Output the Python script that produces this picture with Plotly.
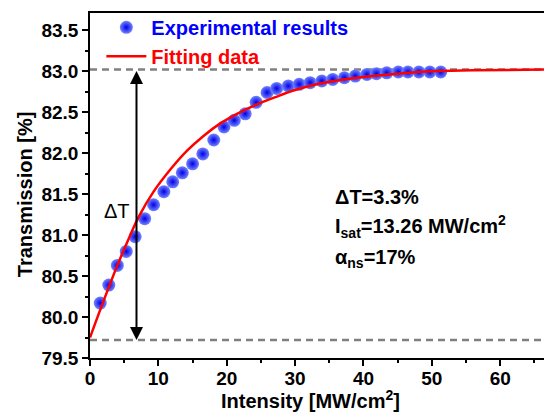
import plotly.graph_objects as go

exp_x = [1.5, 2.75, 4.0, 5.3, 6.6, 8.0, 9.3, 10.8, 12.1, 13.5, 15.0, 16.5, 18.1, 19.6,
         21.1, 22.7, 24.3, 25.9, 27.3, 29.0, 30.6, 32.2, 33.9, 35.5, 37.2, 38.8, 40.5,
         41.9, 43.4, 45.1, 46.5, 48.1, 49.7, 51.3]
exp_y = [80.17, 80.39, 80.63, 80.80, 80.98, 81.20, 81.37, 81.53, 81.65, 81.76, 81.87,
         81.99, 82.16, 82.32, 82.40, 82.48, 82.62, 82.74, 82.79, 82.82, 82.84, 82.86,
         82.88, 82.90, 82.92, 82.94, 82.96, 82.97, 82.98, 82.99, 82.99, 82.99, 82.99, 82.99]

# Fitting curve
fit_x = [0, 2, 4, 6, 7.1, 9.3, 11.75, 14.2, 16.6, 19, 21.5, 24, 27, 30, 35, 40, 45, 50, 56, 66.4]
fit_y = [79.75, 80.20, 80.63, 81.02, 81.22, 81.53, 81.80, 82.03, 82.21, 82.36, 82.48,
         82.58, 82.68, 82.77, 82.87, 82.93, 82.97, 83.00, 83.01, 83.02]

# Reference levels and arrow position
t_max = 83.02
t_min = 79.72
arrow_x = 6.8

x_range = [0, 66.4]
y_range = [79.5, 83.71]

fig = go.Figure()

for lvl in (t_max, t_min):
    fig.add_trace(go.Scatter(
        x=x_range, y=[lvl, lvl], mode="lines",
        line=dict(color="#808080", width=2.5, dash="7px,5px"),
        showlegend=False, hoverinfo="skip"))

fig.add_trace(go.Scatter(
    x=exp_x, y=exp_y, mode="markers",
    name="<span style='color:#0000ff'>Experimental results</span>",
    marker=dict(size=13, color="#7484ff",
                gradient=dict(type="radial", color="#0000e6"),
                line=dict(width=0))))

fig.add_trace(go.Scatter(
    x=fit_x, y=fit_y, mode="lines", line_shape="spline",
    name="<span style='color:#ff0000'>Fitting data</span>",
    line=dict(color="#ff0000", width=2.5)))

fig.add_annotation(
    x=arrow_x, y=t_min, ax=arrow_x, ay=t_max, xref="x", yref="y", axref="x", ayref="y",
    showarrow=True, arrowhead=2, startarrowhead=2, arrowside="end+start",
    arrowsize=1.3, startarrowsize=1.3, arrowwidth=2, arrowcolor="black", text="")

fig.add_annotation(x=3.9, y=81.29, xref="x", yref="y", text="ΔT", showarrow=False,
                   font=dict(size=20, color="black"))

text_font = dict(family="Liberation Sans, Arial", size=20, color="black", weight="bold")
fig.add_annotation(x=35.5, y=81.46, xref="x", yref="y", xanchor="left", text="ΔT=3.3%",
                   showarrow=False, font=text_font)
fig.add_annotation(x=35.5, y=81.10, xref="x", yref="y", xanchor="left",
                   text="I<sub>sat</sub>=13.26 MW/cm<sup>2</sup>", showarrow=False, font=text_font)
fig.add_annotation(x=35.5, y=80.72, xref="x", yref="y", xanchor="left",
                   text="α<sub>ns</sub>=17%", showarrow=False, font=text_font)

# Axis titles
title_font = dict(family="Liberation Sans, Arial", size=20, color="black", weight="bold")
fig.add_annotation(x=0.485, y=-0.119, xref="paper", yref="paper",
                   xanchor="center", yanchor="middle",
                   text="Intensity [MW/cm<sup>2</sup>]", showarrow=False, font=title_font)
fig.add_annotation(x=-0.143, y=0.475, xref="paper", yref="paper", textangle=-90,
                   xanchor="center", yanchor="middle",
                   text="Transmission [%]", showarrow=False, font=title_font)

fig.update_layout(
    width=544, height=415,
    margin=dict(l=90, r=0, t=13, b=57),
    plot_bgcolor="white", paper_bgcolor="white",
    font=dict(family="Liberation Sans, Arial", color="black"),
    legend=dict(x=0.025, y=1.015, xanchor="left", yanchor="top",
                bgcolor="rgba(0,0,0,0)", font=dict(size=20, weight="bold"),
                itemwidth=40, tracegroupgap=0),
    xaxis=dict(range=x_range, showgrid=False, zeroline=False,
               showline=True, linecolor="black", linewidth=1.5, mirror=True,
               ticks="outside", ticklen=6, tickwidth=1.5, tickcolor="black",
               dtick=10, tick0=0, ticklabelstandoff=-4,
               minor=dict(ticks="outside", ticklen=3, tickwidth=1.5, dtick=5, tickcolor="black"),
               tickfont=dict(size=19, weight="bold")),
    yaxis=dict(range=y_range, showgrid=False, zeroline=False,
               showline=True, linecolor="black", linewidth=1.5, mirror=False,
               ticks="outside", ticklen=6, tickwidth=1.5, tickcolor="black",
               dtick=0.5, tick0=79.5, tickformat=".1f",
               minor=dict(ticks="outside", ticklen=3, tickwidth=1.5, dtick=0.25, tickcolor="black"),
               tickfont=dict(size=19, weight="bold")),
)

fig.write_html("out.html")
